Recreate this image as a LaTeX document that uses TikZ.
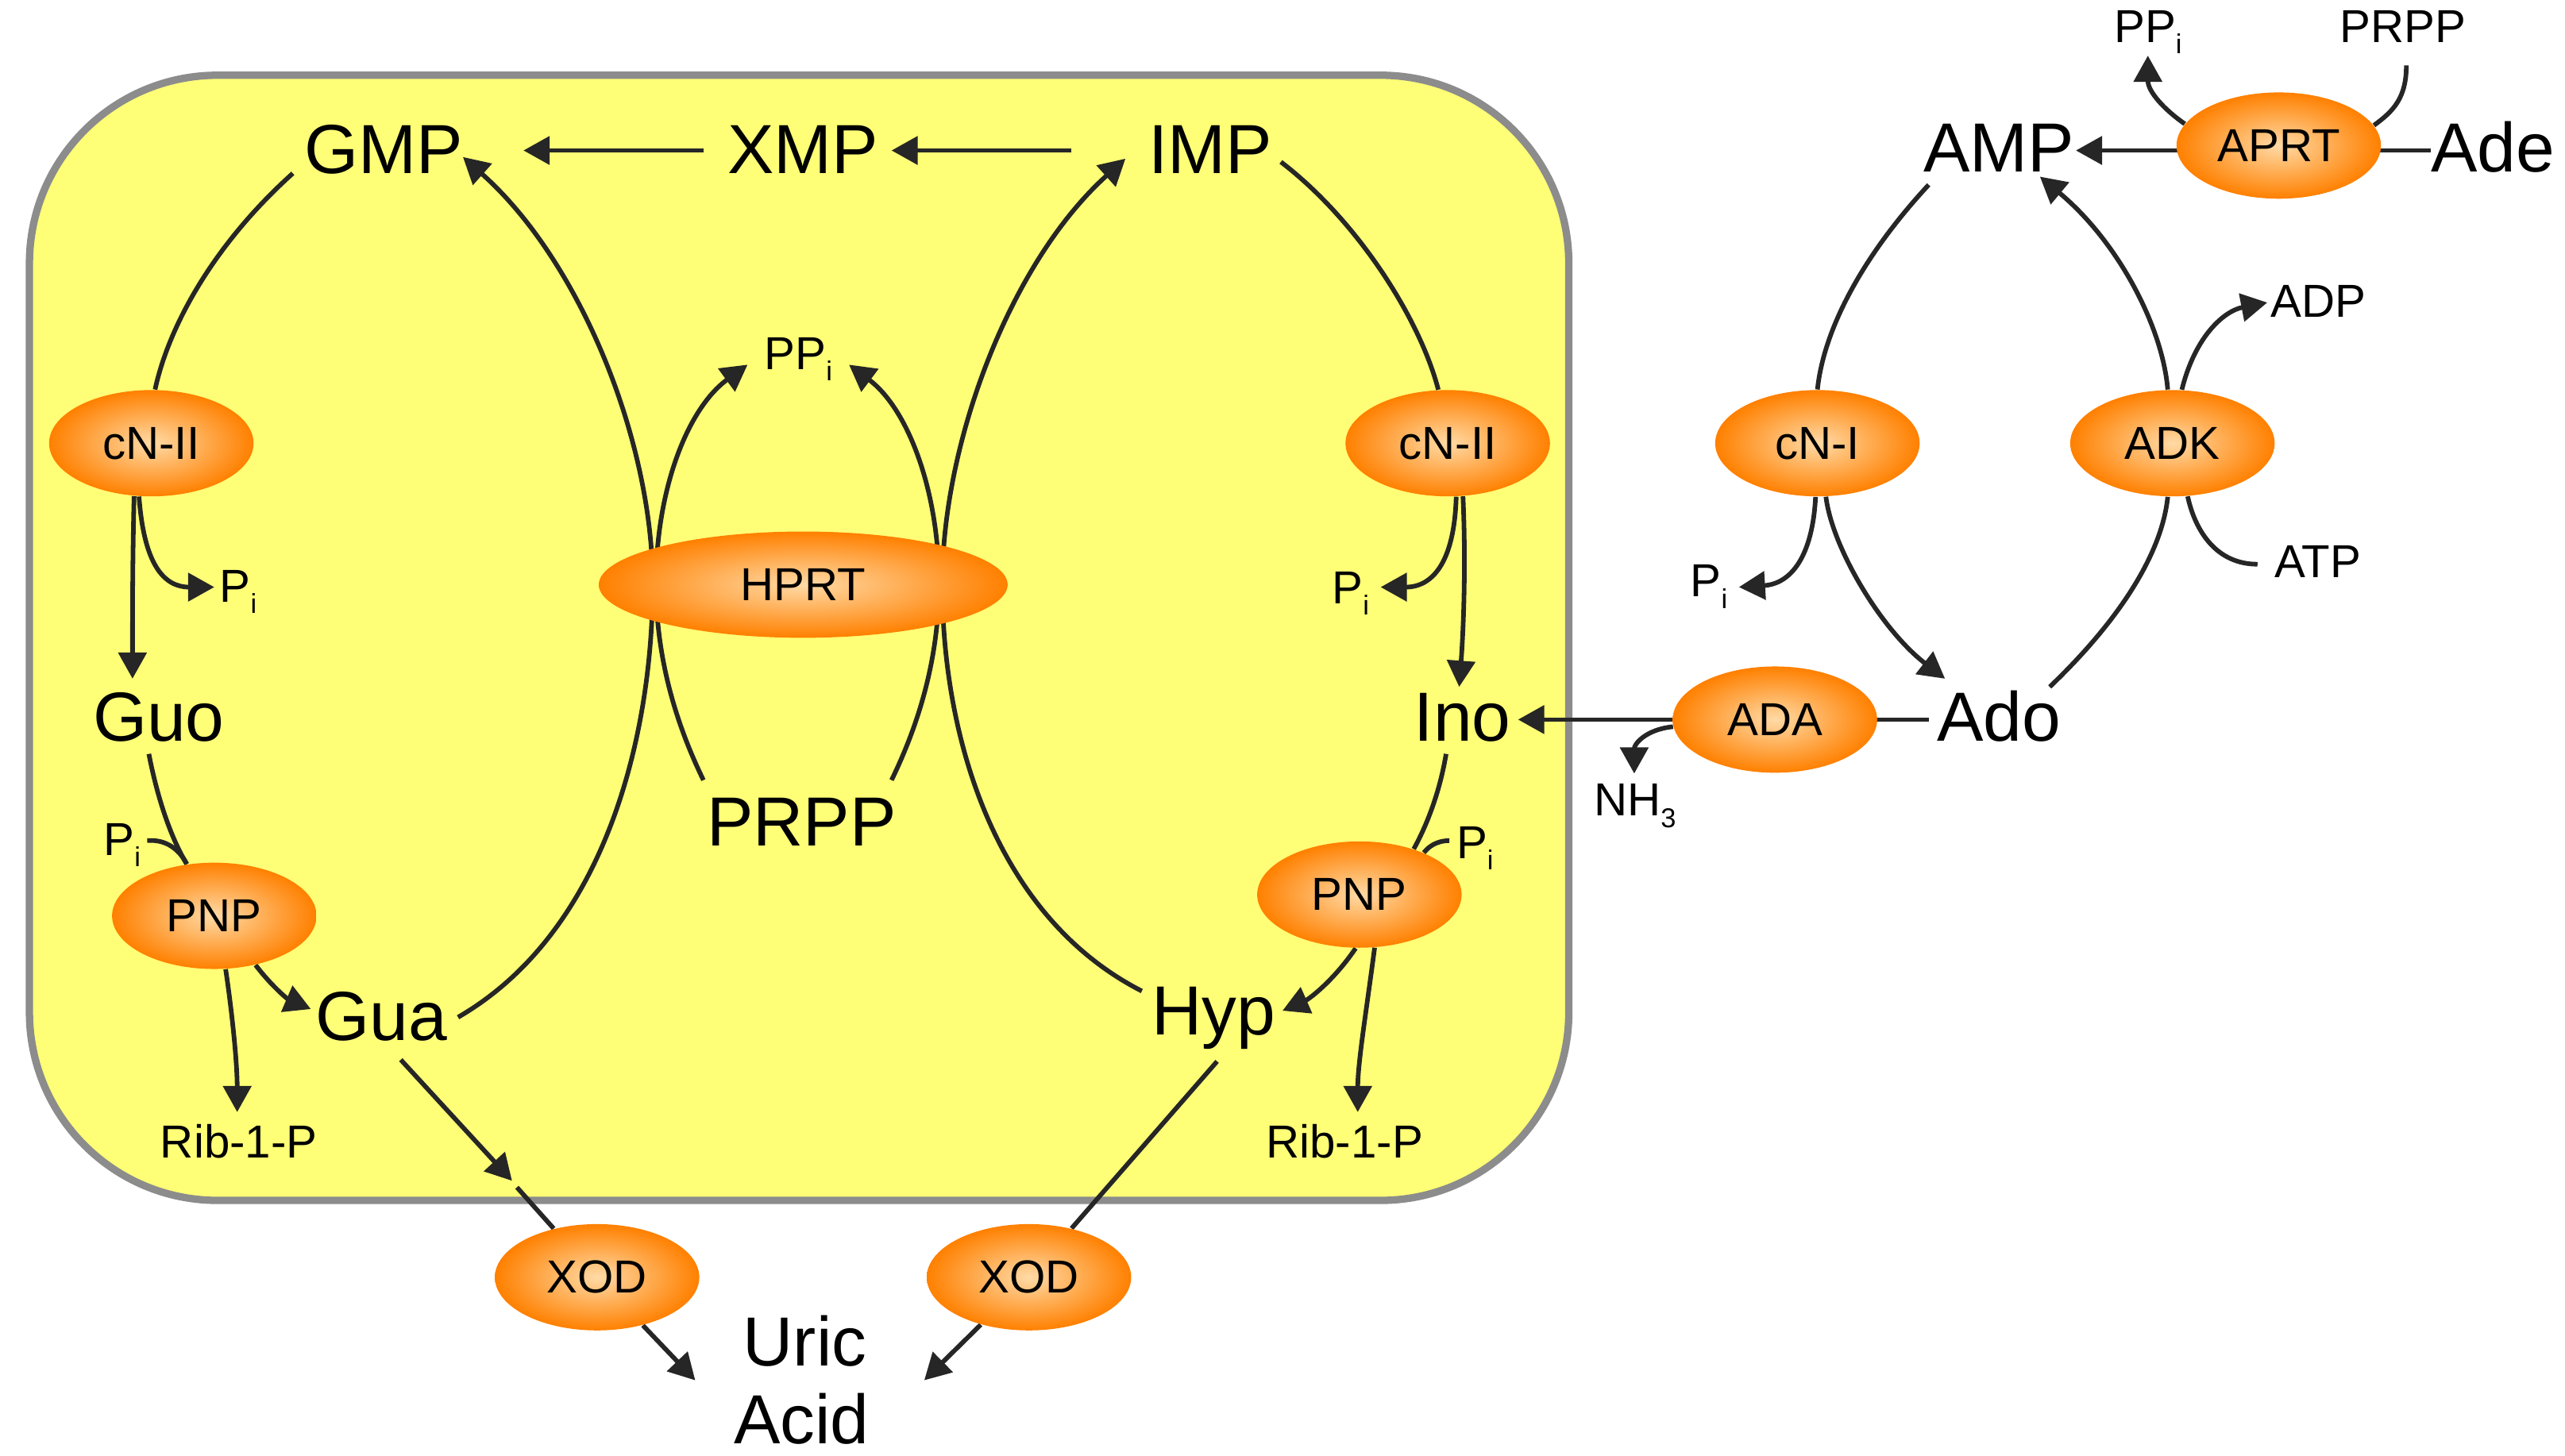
\documentclass[tikz,border=0pt]{standalone}
\usepackage{fontspec}
\setmainfont{Liberation Sans}
\usetikzlibrary{shapes.geometric,arrows.meta}
\pgfdeclarelayer{back}
\pgfdeclarelayer{lines}
\pgfsetlayers{back,lines,main}
\definecolor{boxfill}{RGB}{255,255,119}
\definecolor{boxline}{RGB}{140,140,140}
\definecolor{enzin}{RGB}{255,218,166}
\definecolor{enzout}{RGB}{255,128,0}
\definecolor{ink}{RGB}{38,38,38}
\newcommand\mysub[1]{\raisebox{-0.14cm}{\fontsize{9.5pt}{10pt}\selectfont #1}}
\begin{document}
\begin{tikzpicture}[x=0.02cm,y=-0.02cm,
  big/.style={font=\fontsize{24.2pt}{29pt}\selectfont, inner sep=0pt, anchor=base},
  small/.style={font=\fontsize{16.1pt}{19pt}\selectfont, inner sep=0pt, anchor=base},
  enz/.style={ellipse, inner color=enzin, outer color=enzout, minimum width=2.5cm, minimum height=1.3cm, inner sep=0pt, font=\fontsize{16.1pt}{19pt}\selectfont},
  conn/.style={draw=ink, line width=1.6pt},
  arr/.style={conn, -{Triangle[length=0.32cm,width=0.34cm]}},
]
\useasboundingbox (0,0) rectangle (1568,890);
\begin{pgfonlayer}{back}
\draw[boxline, fill=boxfill, line width=0.09cm, rounded corners=2.3cm] (18,46) rectangle (959,734);
\end{pgfonlayer}

% enzymes
\node[enz] (cn2L) at (92.5,271) {cN-II};
\node[enz] (cn2R) at (885,271) {cN-II};
\node[enz, minimum width=5cm] (hprt) at (491,357.5) {HPRT};
\node[enz] (cn1) at (1111,271) {cN-I};
\node[enz] (adk) at (1328,271) {ADK};
\node[enz] (aprt) at (1393,89) {APRT};
\node[enz] (ada) at (1085,440) {ADA};
\node[enz] (pnpL) at (131,560) {PNP};
\node[enz] (pnpR) at (831,547) {PNP};
\node[enz] (xodL) at (365,781) {XOD};
\node[enz] (xodR) at (629,781) {XOD};

% metabolites
\node[big] (gmp) at (234.5,106) {GMP};
\node[big] (xmp) at (491,106) {XMP};
\node[big] (imp) at (740,106) {IMP};
\node[big] (amp) at (1222,105) {AMP};
\node[big] (ade) at (1524,105) {Ade};
\node[big] (guo) at (97,453) {Guo};
\node[big] (ino) at (894,453) {Ino};
\node[big] (ado) at (1222,453) {Ado};
\node[big] (gua) at (233,636) {Gua};
\node[big] (hyp) at (742,633) {Hyp};
\node[big] (prpp) at (490,517) {PRPP};
\node[big] (uric) at (492,835) {Uric};
\node[big] (acid) at (490,883) {Acid};

\node[small, anchor=base west] (ppiH) at (467,226) {PP\mysub{i}};
\node[small, anchor=base west] (piL) at (134,368) {P\mysub{i}};
\node[small, anchor=base west] (piR) at (814,369) {P\mysub{i}};
\node[small, anchor=base west] (pi1) at (1033,365) {P\mysub{i}};
\node[small, anchor=base west] (piPL) at (63,523) {P\mysub{i}};
\node[small, anchor=base west] (piPR) at (890,525) {P\mysub{i}};
\node[small] (ribL) at (146,708) {Rib-1-P};
\node[small] (ribR) at (822,708) {Rib-1-P};
\node[small, anchor=base west] (ppiA) at (1292,26) {PP\mysub{i}};
\node[small] (prppA) at (1469,26) {PRPP};
\node[small, anchor=base west] (adp) at (1388,194) {ADP};
\node[small, anchor=base west] (atp) at (1390,353) {ATP};
\node[small, anchor=base west] (nh3) at (974,499) {NH\mysub{3}};

% connector ends
\coordinate (xmpL) at (430,92);
\coordinate (gmpR) at (320,92);
\coordinate (impL) at (655,92);
\coordinate (xmpR) at (545,92);
\coordinate (gmpBL) at (179,106);
\coordinate (guoT) at (81,415);
\coordinate (piLtip) at (131,359);
\coordinate (guoB) at (91,461);
\coordinate (guaL) at (190,617);
\coordinate (piPLe) at (90,514);
\coordinate (ribLT) at (145,680);
\coordinate (guaR) at (280,622);
\coordinate (gmpBR) at (283,96);
\coordinate (hL) at (399,357);
\coordinate (prppL) at (430,477);
\coordinate (hL2) at (401,357);
\coordinate (ppiHL) at (457,223);
\coordinate (hypL) at (698,606);
\coordinate (hR) at (576,357);
\coordinate (impBL) at (688,97);
\coordinate (prppR) at (545,477);
\coordinate (hR2) at (574,357);
\coordinate (ppiHR) at (519,223);
\coordinate (impBR) at (783,99);
\coordinate (inoT) at (892,420);
\coordinate (piRtip) at (844,359);
\coordinate (inoB) at (884,461);
\coordinate (hypR) at (784,618);
\coordinate (piPRe) at (886,514);
\coordinate (ribRT) at (830,680);
\coordinate (guaB) at (245,648);
\coordinate (xodLin) at (313,722);
\coordinate (xodLout) at (316,726);
\coordinate (uricL) at (425,844);
\coordinate (hypB) at (744,649);
\coordinate (uricR) at (565,844);
\coordinate (adeL) at (1486,92);
\coordinate (ampR) at (1269,92);
\coordinate (prppAB) at (1471,40);
\coordinate (ppiAB) at (1313,34);
\coordinate (ampBL) at (1179,113);
\coordinate (adoT) at (1189,415);
\coordinate (pi1tip) at (1063,359);
\coordinate (adoTR) at (1253,420);
\coordinate (ampBR) at (1247,108);
\coordinate (adptip) at (1386,185);
\coordinate (atpL) at (1380,345);
\coordinate (adoL) at (1179,440);
\coordinate (inoR) at (928,440);
\coordinate (nh3tip) at (999,473);

\begin{pgfonlayer}{lines}
\draw[arr] (xmpL) -- (gmpR);
\draw[arr] (impL) -- (xmpR);
% left nucleotidase branch
\draw[conn] (gmpBL) .. controls (130,150) and (103,200) .. (cn2L.86);
\draw[arr] (cn2L.252) .. controls (81,340) and (81,380) .. (guoT);
\draw[arr] (cn2L.257) .. controls (88,345) and (100,359) .. (piLtip);
\draw[conn] (guoB) .. controls (97,492) and (106,515) .. (pnpL.118);
\draw[conn] (piPLe) .. controls (102,513) and (110,520) .. (pnpL.118);
\draw[arr] (pnpL.310) .. controls (166,603) and (176,611) .. (guaL);
\draw[arr] (pnpL.282) .. controls (142,620) and (145,650) .. (ribLT);
% HPRT
\draw[arr] (guaR) .. controls (370,570) and (399,450) .. (hL) .. controls (399,270) and (355,160) .. (gmpBR);
\draw[arr] (prppL) .. controls (412,440) and (401,400) .. (hL2) .. controls (401,300) and (420,250) .. (ppiHL);
\draw[arr] (hypL) .. controls (608,560) and (576,450) .. (hR) .. controls (576,270) and (618,160) .. (impBL);
\draw[arr] (prppR) .. controls (563,440) and (574,400) .. (hR2) .. controls (574,300) and (555,250) .. (ppiHR);
% right nucleotidase branch
\draw[conn] (impBR) .. controls (830,135) and (868,195) .. (cn2R.100);
\draw[arr] (cn2R.286) .. controls (896,340) and (895,380) .. (inoT);
\draw[arr] (cn2R.279) .. controls (889,345) and (875,359) .. (piRtip);
\draw[conn] (inoB) .. controls (880,485) and (872,505) .. (pnpR.40);
\draw[conn] (piPRe) .. controls (878,514) and (873,518) .. (pnpR.33);
\draw[arr] (pnpR.266) .. controls (815,600) and (800,611) .. (hypR);
\draw[arr] (pnpR.286) .. controls (835,620) and (830,650) .. (ribRT);
% xanthine oxidase
\draw[arr] (guaB) -- (xodLin);
\draw[conn] (xodLout) -- (xodL);
\draw[arr] (xodL) -- (uricL);
\draw[conn] (hypB) -- (xodR);
\draw[arr] (xodR) -- (uricR);
% adenine side
\draw[arr] (adeL) -- (ampR);
\draw[conn] (prppAB) .. controls (1471,60) and (1463,68) .. (aprt.12);
\draw[arr] (aprt.167) .. controls (1323,67) and (1313,56) .. (ppiAB);
\draw[conn] (ampBL) .. controls (1140,155) and (1115,200) .. (cn1.90);
\draw[arr] (cn1.279) .. controls (1120,335) and (1150,385) .. (adoT);
\draw[arr] (cn1.268) .. controls (1108,340) and (1095,357) .. (pi1tip);
\draw[conn] (adoTR) .. controls (1300,375) and (1322,335) .. (adk.265);
\draw[arr] (adk.95) .. controls (1322,200) and (1295,148) .. (ampBR);
\draw[arr] (adk.80) .. controls (1342,205) and (1360,190) .. (adptip);
\draw[conn] (atpL) .. controls (1355,345) and (1342,325) .. (adk.286);
\draw[arr] (adoL) -- (inoR);
\draw[arr] (ada.184) .. controls (1006,446) and (999,455) .. (nh3tip);
\end{pgfonlayer}
\end{tikzpicture}
\end{document}
